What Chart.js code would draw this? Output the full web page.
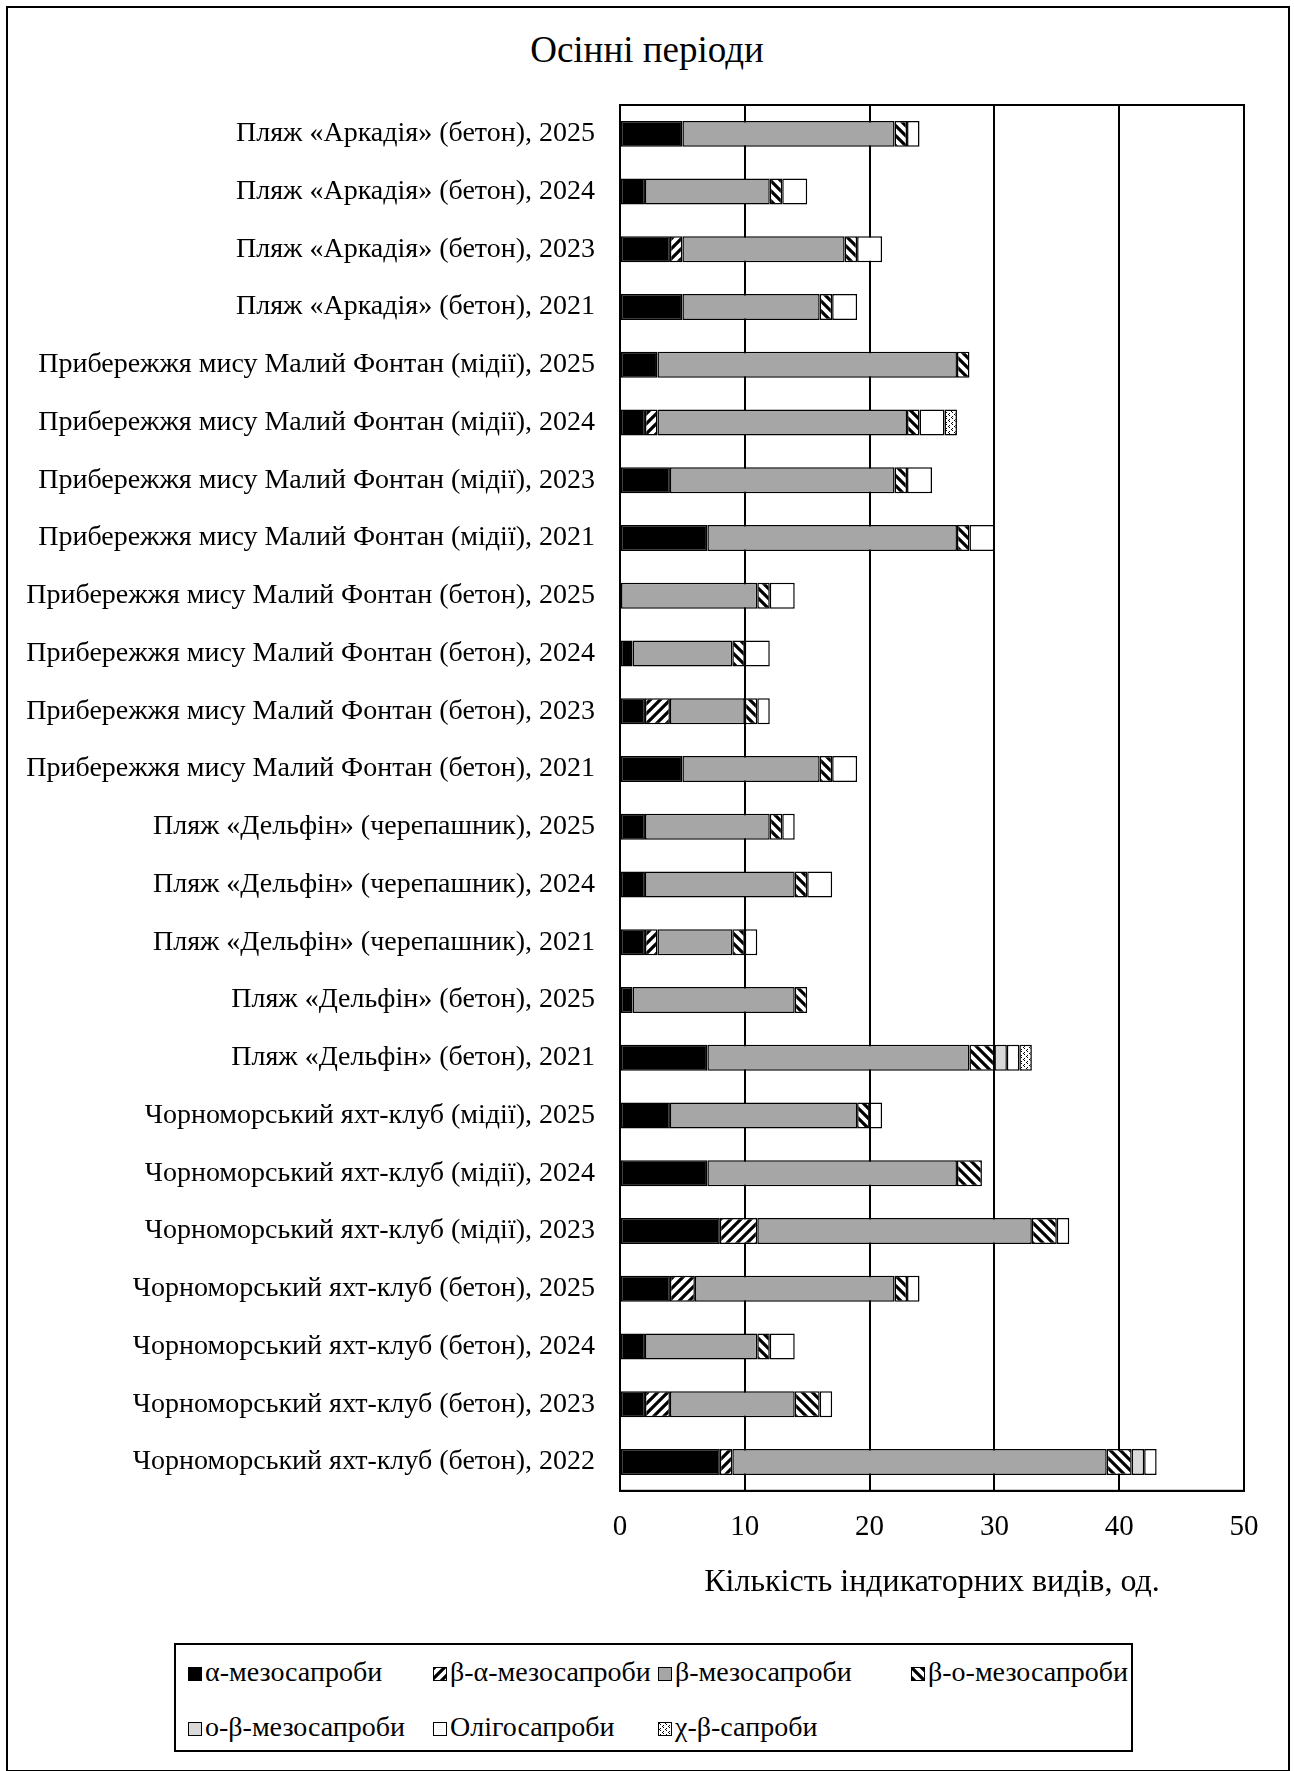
<!DOCTYPE html>
<html>
<head>
<meta charset="utf-8">
<script src="https://cdn.jsdelivr.net/npm/chart.js@4/dist/chart.umd.min.js"></script>
<style>
    body { margin: 0; background: #fff; font-family: "Liberation Serif", serif; }
    #frame { position: absolute; left: 6px; top: 6px; width: 1280px; height: 1762px; border: 2px solid #000; }
    #title { position: absolute; left: 0; top: 28px; width: 1294px; text-align: center; font-size: 37px; line-height: 44px; }
    #wrap { position: absolute; left: 0; top: 0; width: 1294px; height: 1612px; }
    #legend { position: absolute; left: 174px; top: 1643px; width: 955px; height: 105px; border: 2px solid #000; }
    .item { position: absolute; font-size: 28px; line-height: 30px; white-space: nowrap; }
    .item canvas { vertical-align: 0px; margin-right: 3px; border: 1px solid #000; }
</style>
</head>
<body>
<div id="frame"></div>
<div id="title">Осінні періоди</div>
<div id="wrap"><canvas id="chart"></canvas></div>
<div id="legend"></div>
<script>
// Categories (top to bottom)
var categories = [
    "Пляж «Аркадія» (бетон), 2025",
    "Пляж «Аркадія» (бетон), 2024",
    "Пляж «Аркадія» (бетон), 2023",
    "Пляж «Аркадія» (бетон), 2021",
    "Прибережжя мису Малий Фонтан (мідії), 2025",
    "Прибережжя мису Малий Фонтан (мідії), 2024",
    "Прибережжя мису Малий Фонтан (мідії), 2023",
    "Прибережжя мису Малий Фонтан (мідії), 2021",
    "Прибережжя мису Малий Фонтан (бетон), 2025",
    "Прибережжя мису Малий Фонтан (бетон), 2024",
    "Прибережжя мису Малий Фонтан (бетон), 2023",
    "Прибережжя мису Малий Фонтан (бетон), 2021",
    "Пляж «Дельфін» (черепашник), 2025",
    "Пляж «Дельфін» (черепашник), 2024",
    "Пляж «Дельфін» (черепашник), 2021",
    "Пляж «Дельфін» (бетон), 2025",
    "Пляж «Дельфін» (бетон), 2021",
    "Чорноморський яхт-клуб (мідії), 2025",
    "Чорноморський яхт-клуб (мідії), 2024",
    "Чорноморський яхт-клуб (мідії), 2023",
    "Чорноморський яхт-клуб (бетон), 2025",
    "Чорноморський яхт-клуб (бетон), 2024",
    "Чорноморський яхт-клуб (бетон), 2023",
    "Чорноморський яхт-клуб (бетон), 2022"
];

// Series values (number of indicator species)
var alphaMeso    = [5, 2, 4, 5, 3, 2, 4, 7, 0, 1, 2, 5, 2, 2, 2, 1, 7, 4, 7, 8, 4, 2, 2, 8];
var betaAlphaMeso = [0, 0, 1, 0, 0, 1, 0, 0, 0, 0, 2, 0, 0, 0, 1, 0, 0, 0, 0, 3, 2, 0, 2, 1];
var betaMeso     = [17, 10, 13, 11, 24, 20, 18, 20, 11, 8, 6, 11, 10, 12, 6, 13, 21, 15, 20, 22, 16, 9, 10, 30];
var betaOMeso    = [1, 1, 1, 1, 1, 1, 1, 1, 1, 1, 1, 1, 1, 1, 1, 1, 2, 1, 2, 2, 1, 1, 2, 2];
var oBetaMeso    = [0, 0, 0, 0, 0, 0, 0, 0, 0, 0, 0, 0, 0, 0, 0, 0, 1, 0, 0, 0, 0, 0, 0, 1];
var oligo        = [1, 2, 2, 2, 0, 2, 2, 2, 2, 2, 1, 2, 1, 2, 1, 0, 1, 1, 0, 1, 1, 2, 1, 1];
var chiBeta      = [0, 0, 0, 0, 0, 1, 0, 0, 0, 0, 0, 0, 0, 0, 0, 0, 1, 0, 0, 0, 0, 0, 0, 0];

var seriesNames = ["α-мезосапроби", "β-α-мезосапроби", "β-мезосапроби", "β-о-мезосапроби",
                   "о-β-мезосапроби", "Олігосапроби", "χ-β-сапроби"];
var xTicks = [0, 10, 20, 30, 40, 50];

// Hatch patterns
function stripes(dir) {
    var c = document.createElement('canvas');
    c.width = 10; c.height = 10;
    var g = c.getContext('2d');
    g.fillStyle = '#fff'; g.fillRect(0, 0, 10, 10);
    g.strokeStyle = '#000'; g.lineWidth = 3.2;
    g.beginPath();
    if (dir > 0) {
        g.moveTo(-2, 12); g.lineTo(12, -2);
        g.moveTo(-7, 7); g.lineTo(7, -7);
        g.moveTo(3, 17); g.lineTo(17, 3);
    } else {
        g.moveTo(-2, -2); g.lineTo(12, 12);
        g.moveTo(-7, 3); g.lineTo(7, 17);
        g.moveTo(3, -7); g.lineTo(17, 7);
    }
    g.stroke();
    return g.createPattern(c, 'repeat');
}
function dots() {
    var c = document.createElement('canvas');
    c.width = 6; c.height = 6;
    var g = c.getContext('2d');
    g.fillStyle = '#fff'; g.fillRect(0, 0, 6, 6);
    g.fillStyle = '#000';
    g.fillRect(0, 0, 1, 1); g.fillRect(3, 3, 1, 1);
    g.fillRect(1, 1, 1, 1); g.fillRect(4, 4, 1, 1);
    g.fillRect(4, 2, 1, 1); g.fillRect(1, 5, 1, 1);
    return g.createPattern(c, 'repeat');
}

var fills = ['#000000', stripes(1), '#a6a6a6', stripes(-1), '#d9d9d9', '#ffffff', dots()];
var values = [alphaMeso, betaAlphaMeso, betaMeso, betaOMeso, oBetaMeso, oligo, chiBeta];

var datasets = values.map(function(arr, i) {
    return {
        label: seriesNames[i],
        data: arr.map(function(v) { return v === 0 ? null : v; }),
        backgroundColor: fills[i],
        borderColor: '#000',
        borderWidth: 1.5,
        borderSkipped: false,
        barPercentage: 0.45,
        categoryPercentage: 1
    };
});

// Box around the plot area
var frameBox = {
    id: 'frameBox',
    afterDraw: function(chart) {
        var a = chart.chartArea, ctx = chart.ctx;
        ctx.save();
        ctx.strokeStyle = '#000'; ctx.lineWidth = 2;
        ctx.strokeRect(a.left, a.top, a.right - a.left, a.bottom - a.top);
        ctx.restore();
    }
};

var ctx = document.getElementById('chart').getContext('2d');
var chart = new Chart(ctx, {
    type: 'bar',
    data: { labels: categories, datasets: datasets },
    plugins: [frameBox],
    options: {
        indexAxis: 'y',
        responsive: true,
        maintainAspectRatio: false,
        animation: false,
        layout: { padding: { left: 0, right: 50, top: 105, bottom: 10 } },
        plugins: {
            legend: { display: false },
            tooltip: { enabled: false },
            title: { display: false }
        },
        scales: {
            x: {
                stacked: true,
                min: 0, max: 50,
                afterBuildTicks: function(s) { s.ticks = xTicks.map(function(v) { return { value: v }; }); },
                grid: { color: '#000', lineWidth: 2, drawTicks: false },
                border: { color: '#000', width: 2 },
                ticks: { color: '#000', padding: 19, font: { family: 'Liberation Serif', size: 29 } },
                title: {
                    display: true,
                    text: 'Кількість індикаторних видів, од.',
                    color: '#000',
                    font: { family: 'Liberation Serif', size: 32 },
                    padding: { top: 0, bottom: 0 }
                }
            },
            y: {
                stacked: true,
                afterFit: function(s) { s.width = 620; },
                grid: { display: false },
                border: { color: '#000', width: 2 },
                ticks: { color: '#000', padding: 17, font: { family: 'Liberation Serif', size: 28 } }
            }
        }
    }
});

// Legend in a grid, like the reference
var pos = [[12, 12], [257, 12], [482, 12], [735, 12], [12, 67], [257, 67], [482, 67]];
var legend = document.getElementById('legend');
seriesNames.forEach(function(name, i) {
    var d = document.createElement('div');
    d.className = 'item';
    d.style.left = pos[i][0] + 'px';
    d.style.top = pos[i][1] + 'px';
    var sw = document.createElement('canvas');
    sw.width = 12; sw.height = 12;
    var g = sw.getContext('2d');
    g.fillStyle = fills[i]; g.fillRect(0, 0, 12, 12);
    d.appendChild(sw);
    d.appendChild(document.createTextNode(name));
    legend.appendChild(d);
});
</script>
</body>
</html>
